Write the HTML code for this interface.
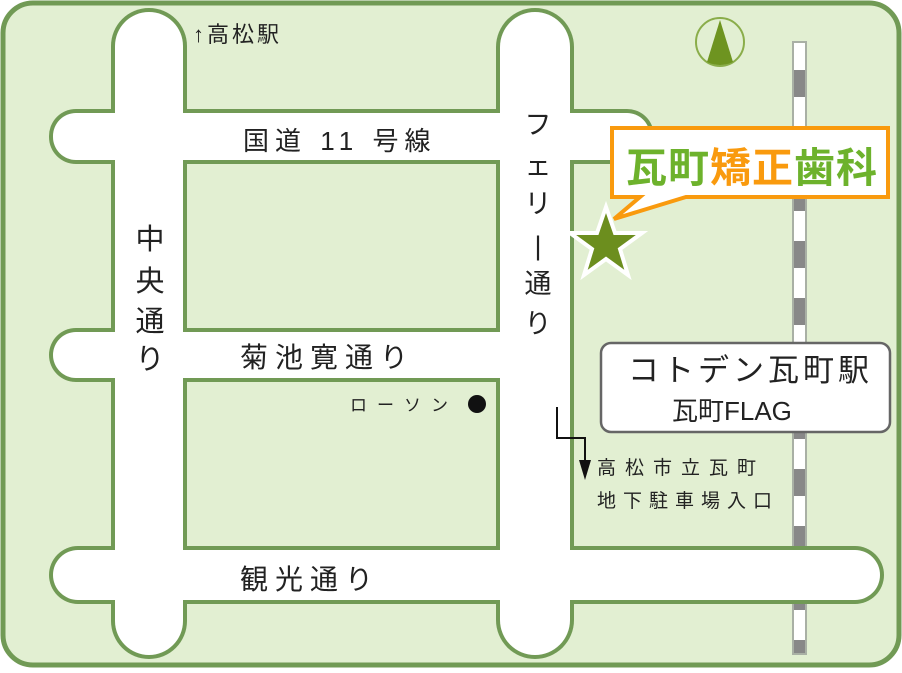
<!DOCTYPE html>
<html><head><meta charset="utf-8"><style>
body{margin:0;width:902px;height:668px;overflow:hidden;background:#fff}
svg text{font-family:"Liberation Sans","Noto Sans CJK JP",sans-serif;fill:#222}
</style></head><body>
<svg width="902" height="668" viewBox="0 0 902 668" xmlns="http://www.w3.org/2000/svg">
<rect x="3" y="3" width="896" height="662" rx="30" fill="#e2efd2" stroke="#719a55" stroke-width="5"/>
<!-- rail -->
<rect x="793" y="42" width="13" height="612" fill="#fff" stroke="#a9b0a5" stroke-width="2"/>
<line x1="799.5" y1="70" x2="799.5" y2="653" stroke="#888" stroke-width="11" stroke-dasharray="27,30"/>
<!-- roads outline -->
<g fill="#719a55">
<rect x="111" y="8" width="76" height="651" rx="38"/>
<rect x="496" y="8" width="78" height="651" rx="39"/>
<rect x="49" y="109" width="605" height="55" rx="27"/>
<rect x="49" y="328" width="515" height="54" rx="27"/>
<rect x="49" y="546" width="835" height="58" rx="29"/>
</g>
<g fill="#fff">
<rect x="115" y="12" width="68" height="643" rx="34"/>
<rect x="500" y="12" width="70" height="643" rx="35"/>
<rect x="53" y="113" width="597" height="47" rx="23"/>
<rect x="53" y="332" width="507" height="46" rx="23"/>
<rect x="53" y="550" width="827" height="50" rx="25"/>
</g>
<!-- compass -->
<circle cx="720" cy="42" r="24" fill="none" stroke="#8aad4a" stroke-width="2"/>
<path d="M720 20 L733 62 Q720 68 707 62 Z" fill="#6e9420"/>
<!-- labels -->
<text x="193" y="42" font-size="22" letter-spacing="3">↑高松駅</text>
<text x="243" y="150" font-size="26" letter-spacing="6">国道 11 号線</text>
<text x="240" y="367" font-size="28" letter-spacing="7">菊池寛通り</text>
<text x="240" y="589" font-size="28" letter-spacing="7">観光通り</text>
<g font-size="29" text-anchor="middle">
<text x="150" y="249">中</text><text x="150" y="291">央</text><text x="150" y="331">通</text><text x="150" y="369">り</text>
</g>
<g font-size="27" text-anchor="middle">
<text x="538" y="134">フ</text><text x="538" y="175">ェ</text><text x="538" y="213">リ</text><text x="538" y="255">|</text><text x="538" y="293">通</text><text x="538" y="333">り</text>
</g>
<text x="350" y="411" font-size="17" letter-spacing="10">ローソン</text>
<circle cx="477" cy="404" r="9" fill="#111"/>
<polyline points="557,407 557,438 585,438 585,465" fill="none" stroke="#111" stroke-width="2"/>
<path d="M579 460 L591 460 L585 480 Z" fill="#111"/>
<text x="597" y="474" font-size="19" letter-spacing="9">高松市立瓦町</text>
<text x="597" y="507" font-size="19" letter-spacing="7">地下駐車場入口</text>
<!-- station box -->
<rect x="601" y="343" width="289" height="89" rx="10" fill="#fff" stroke="#666" stroke-width="2.5"/>
<text x="628" y="381" font-size="31" letter-spacing="4">コトデン瓦町駅</text>
<text x="672" y="420" font-size="26">瓦町FLAG</text>
<!-- callout -->
<path d="M612 128 H888 V197 H686 L614 219 L640 197 H612 Z" fill="#fff" stroke="#f99a0e" stroke-width="4" stroke-linejoin="miter"/>
<text x="626" y="182" font-size="41" font-weight="bold" letter-spacing="1"><tspan style="fill:#6db22c">瓦町</tspan><tspan style="fill:#f99a0e">矯正</tspan><tspan style="fill:#6db22c">歯科</tspan></text>
<!-- star -->
<path d="M606 207 L615 233 L642 233 L620 249 L628 275 L606 259 L584 275 L592 249 L570 233 L597 233 Z" fill="#6c8e1e" stroke="#fff" stroke-width="4" stroke-linejoin="miter"/>
</svg>
</body></html>
